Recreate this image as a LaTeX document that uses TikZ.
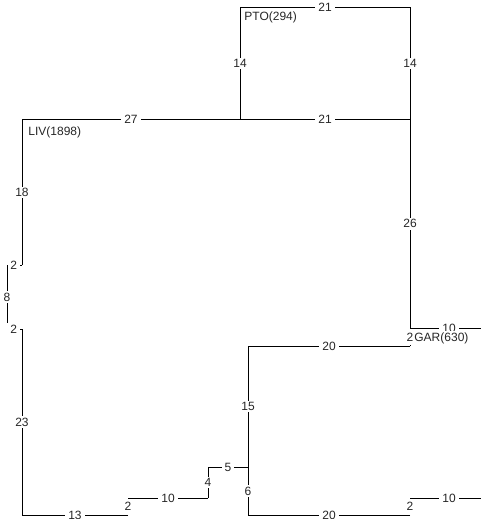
\documentclass[tikz,border=0pt]{standalone}
\usepackage{fontspec}
\setmainfont{Liberation Sans}
\begin{document}
\begin{tikzpicture}[x=1pt,y=-1pt,line width=0.8pt,
  lab/.style={fill=white,inner xsep=3pt,inner ysep=1.5pt,font=\fontsize{12}{14}\selectfont,text=black!85},
  shortlab/.style={lab,inner ysep=4pt},
  townlab/.style={inner sep=0pt,font=\fontsize{12}{14}\selectfont,text=black!85}]
\useasboundingbox (0,0) rectangle (481,519);
\coordinate (a) at (240,7.5);
\coordinate (b) at (410,7.5);
\coordinate (c) at (410,119.5);
\coordinate (d) at (240,119.5);
\coordinate (e) at (22,119.5);
\coordinate (f) at (22,265);
\coordinate (g) at (7,265);
\coordinate (h) at (7,329);
\coordinate (i) at (22,329);
\coordinate (j) at (22,515);
\coordinate (k) at (128,515);
\coordinate (l) at (128,498);
\coordinate (m) at (208,498);
\coordinate (n) at (208,467);
\coordinate (o) at (248,467);
\coordinate (p) at (248,346);
\coordinate (q) at (410,346);
\coordinate (r) at (410,328);
\coordinate (s) at (481,328);
\coordinate (t) at (248,515);
\coordinate (u) at (410,515);
\coordinate (v) at (410,498);
\coordinate (w) at (481,498);
\draw (a) -- node[lab]{21} (b);
\draw (a) -- node[lab]{14} (d);
\draw (b) -- node[lab]{14} (c);
\draw (d) -- node[lab]{21} (c);
\draw (e) -- node[lab]{27} (d);
\draw (e) -- node[lab]{18} (f);
\draw (f) -- node[lab,pos=0.55]{2} (g);
\draw (g) -- node[lab]{8} (h);
\draw (h) -- node[lab,pos=0.45]{2} (i);
\draw (i) -- node[lab]{23} (j);
\draw (j) -- node[lab]{13} (k);
\draw (k) -- node[shortlab]{2} (l);
\draw (l) -- node[lab]{10} (m);
\draw (m) -- node[lab]{4} (n);
\draw (n) -- node[lab]{5} (o);
\draw (o) -- node[lab]{15} (p);
\draw (p) -- node[lab]{20} (q);
\draw (c) -- node[lab]{26} (r);
\draw (r) -- node[lab,pos=0.55]{10} (s);
\draw (q) -- node[shortlab]{2} (r);
\draw (o) -- node[lab]{6} (t);
\draw (t) -- node[lab]{20} (u);
\draw (u) -- node[shortlab]{2} (v);
\draw (v) -- node[lab,pos=0.55]{10} (w);
\node[townlab,anchor=north west] (pto) at (244,11) {PTO(294)};
\node[townlab,anchor=north west] (liv) at (28,126) {LIV(1898)};
\node[townlab,anchor=west,fill=white,inner ysep=1pt] (gar) at (414,338) {GAR(630)};
\end{tikzpicture}
\end{document}
